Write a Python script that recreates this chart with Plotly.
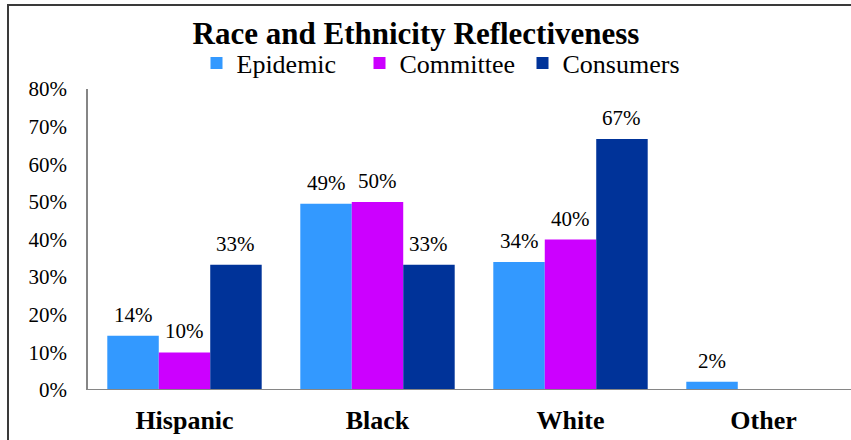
import plotly.graph_objects as go

categories = ["Hispanic", "Black", "White", "Other"]
epidemic = [0.144, 0.495, 0.34, 0.022]
committee = [0.10, 0.50, 0.40, None]
consumers = [0.333, 0.333, 0.667, None]
series_names = ["Epidemic", "Committee", "Consumers"]
colors = ["#3399FF", "#CC00FF", "#003399"]
y_ticks = [0, 0.1, 0.2, 0.3, 0.4, 0.5, 0.6, 0.7, 0.8]
y_tick_labels = ["0%", "10%", "20%", "30%", "40%", "50%", "60%", "70%", "80%"]
label_texts = {
    "Epidemic": ["14%", "49%", "34%", "2%"],
    "Committee": ["10%", "50%", "40%", None],
    "Consumers": ["33%", "33%", "67%", None],
}

FONT = "Liberation Serif"

W, H = 851, 440
ml, mt, mb = 88, 89, 50
pw = W - ml
ph = H - mt - mb
cat_px = 193.0
bar_px = cat_px * 0.8 / 3

fig = go.Figure()
annotations = []
for i, (name, vals, col) in enumerate(zip(series_names, [epidemic, committee, consumers], colors)):
    fig.add_trace(go.Bar(
        name=name, x=categories, y=vals,
        marker=dict(color=col, line=dict(width=0)),
    ))
    for c, v, t in zip(categories, vals, label_texts[name]):
        if v is None or t is None:
            continue
        annotations.append(dict(
            x=c, y=v, xref="x", yref="y", text=t,
            showarrow=False, yanchor="bottom", xanchor="center",
            xshift=(i - 1) * bar_px, yshift=7,
            font=dict(family=FONT, size=21, color="black"),
        ))

fig.update_layout(
    width=W, height=H,
    margin=dict(l=ml, r=0, t=mt, b=mb, pad=0),
    paper_bgcolor="white", plot_bgcolor="white",
    barmode="group", bargap=0.2, bargroupgap=0,
    title=dict(text="<b>Race and Ethnicity Reflectiveness</b>",
               font=dict(family=FONT, size=31, color="black"),
               x=416 / W, xanchor="center", xref="container",
               y=(H - 33) / H, yanchor="middle", yref="container"),
    legend=dict(orientation="h", x=(441 - ml) / pw, xanchor="center",
                y=1 + (mt - 63) / ph, yanchor="middle",
                entrywidth=118, entrywidthmode="pixels",
                font=dict(family=FONT, size=26, color="black"),
                bgcolor="rgba(0,0,0,0)"),
    showlegend=True,
    annotations=annotations,
    xaxis=dict(range=[-0.5, -0.5 + pw / cat_px], showgrid=False, zeroline=False,
               showline=False, ticks="outside", ticklen=7, tickcolor="rgba(0,0,0,0)",
               tickvals=categories, ticktext=[f"<b>{c}</b>" for c in categories],
               tickfont=dict(family=FONT, size=26, color="black")),
    yaxis=dict(range=[0, 0.8], tickvals=y_ticks, ticktext=y_tick_labels,
               showgrid=False, zeroline=False, showline=True, linecolor="#868686",
               linewidth=1.5, ticks="outside", ticklen=15, tickcolor="rgba(0,0,0,0)",
               tickfont=dict(family=FONT, size=21, color="black")),
    shapes=[
        dict(type="line", xref="paper", yref="y", x0=0, x1=1.02, y0=0, y1=0,
             line=dict(color="#868686", width=2)),
        dict(type="rect", xref="paper", yref="paper",
             x0=(8 - ml) / pw, x1=1.05, y0=-0.3, y1=1 + (mt - 5) / ph,
             line=dict(color="#3a3a3a", width=2), fillcolor="rgba(0,0,0,0)",
             layer="above"),
    ],
)

fig.write_html("out.html")
